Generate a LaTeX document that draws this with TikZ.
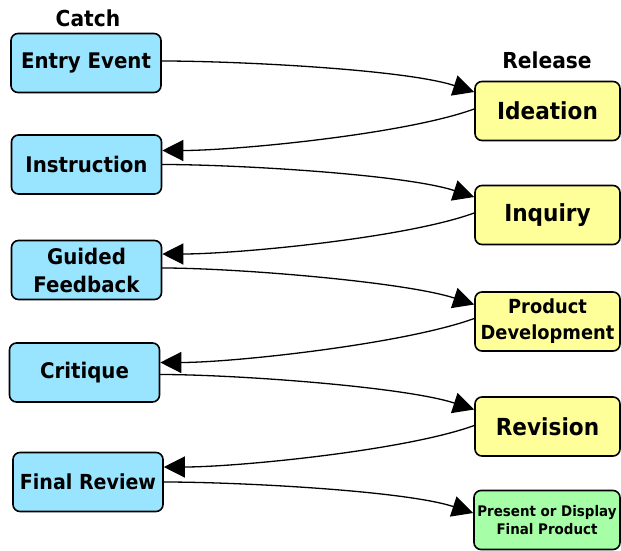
\documentclass[tikz,border=0pt]{standalone}
\usepackage{fontspec}
\setmainfont{DejaVu Sans}[FakeStretch=0.92]
\usetikzlibrary{arrows.meta}
\definecolor{catchblue}{RGB}{153,229,255}
\definecolor{releaseyellow}{RGB}{255,255,153}
\definecolor{finalgreen}{RGB}{166,255,166}
\begin{document}
\begin{tikzpicture}[x=1pt,y=1pt,>={Triangle[length=21pt,width=21pt]},line join=round,line cap=round,
		box/.style={draw,line width=1.6pt,rounded corners=7pt,align=center,inner sep=0pt,minimum height=59pt},
		catch/.style={box,fill=catchblue,minimum width=150pt,font=\bfseries\fontsize{21.5}{28}\selectfont},
		release/.style={box,fill=releaseyellow,minimum width=145pt,font=\bfseries\fontsize{23.5}{28}\selectfont},
		head/.style={font=\bfseries\fontsize{22}{26}\selectfont},
		flow/.style={->,line width=1.3pt,looseness=0.6}]
		\useasboundingbox (0,0) rectangle (621,550);
		% left column
		\node[head] (catchlbl) at (88,532) {Catch};
		\node[catch] (ee) at (86,487) {Entry Event};
		\node[catch] (ins) at (86.5,385.5) {Instruction};
		\node[catch] (gf) at (86.5,280) {Guided\\Feedback};
		\node[catch] (cri) at (84.5,177.5) {Critique};
		\node[catch,font=\bfseries\fontsize{20.7}{26}\selectfont] (fr) at (88,68) {Final Review};
		% right column
		\node[head] (releaselbl) at (547,490) {Release};
		\node[release] (ide) at (547.5,439) {Ideation};
		\node[release] (inq) at (547.5,335) {Inquiry};
		\node[release,font=\bfseries\fontsize{19.4}{26}\selectfont] (pd) at (547.5,228.5) {Product\\Development};
		\node[release] (rev) at (547.5,123.5) {Revision};
		\node[box,fill=finalgreen,minimum width=146pt,font=\bfseries\fontsize{14.6}{18}\selectfont] (pfp) at (547,30) {Present or Display\\Final Product};
		% catch and release
		\draw[flow] ([yshift=2pt]ee.east) to[out=0,in=162] ([yshift=19pt]ide.west);
		\draw[flow] ([yshift=2pt]ide.west) to[out=200,in=0] ([yshift=14pt]ins.east);
		\draw[flow] ([yshift=0pt]ins.east) to[out=0,in=162] ([yshift=18pt]inq.west);
		\draw[flow] ([yshift=2pt]inq.west) to[out=200,in=0] ([yshift=16pt]gf.east);
		\draw[flow] ([yshift=2pt]gf.east) to[out=0,in=162] ([yshift=17pt]pd.west);
		\draw[flow] ([yshift=3pt]pd.west) to[out=200,in=0] ([yshift=10pt]cri.east);
		\draw[flow] ([yshift=-2pt]cri.east) to[out=0,in=162] ([yshift=17pt]rev.west);
		\draw[flow] ([yshift=1pt]rev.west) to[out=200,in=0] ([yshift=15pt]fr.east);
		\draw[flow] ([yshift=0pt]fr.east) to[out=0,in=162] ([yshift=7pt]pfp.west);
	\end{tikzpicture}
\end{document}
